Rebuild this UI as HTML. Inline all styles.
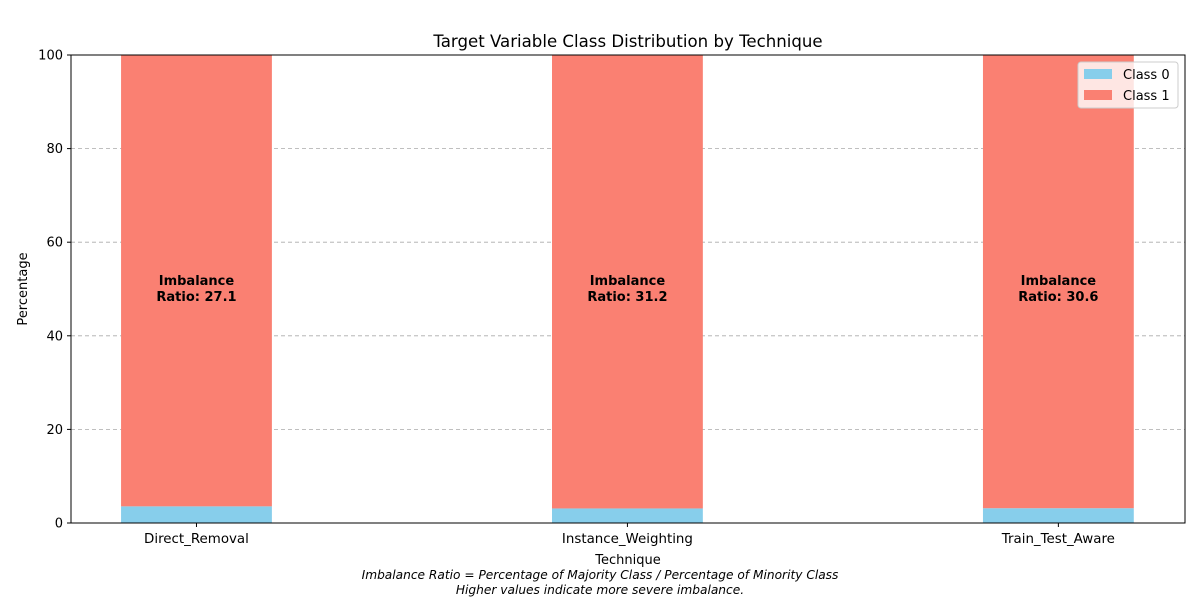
<!DOCTYPE html>
<html><head><meta charset="utf-8"><style>
body{margin:0;background:#fff;}
svg text{font-family:"DejaVu Sans","Liberation Sans",sans-serif;}
</style></head><body>
<svg id="chart" width="1200" height="600" xmlns="http://www.w3.org/2000/svg">
<rect width="1200" height="600" fill="#fff"/>
<text x="628" y="47" font-size="16.6" text-anchor="middle">Target Variable Class Distribution by Technique</text>
<g id="grid"></g>
<g id="bars"></g>
<g id="axes"></g>
<text x="628" y="564" font-size="13" text-anchor="middle">Technique</text>
<text transform="translate(27,289) rotate(-90)" font-size="13" text-anchor="middle">Percentage</text>
<text x="600" y="579" font-size="12.2" font-style="italic" text-anchor="middle">Imbalance Ratio = Percentage of Majority Class / Percentage of Minority Class</text>
<text x="600" y="594" font-size="12.2" font-style="italic" text-anchor="middle">Higher values indicate more severe imbalance.</text>
<g>
<rect x="1078" y="62" width="100" height="46" rx="3" fill="#fff" fill-opacity="0.8" stroke="#ccc"/>
<rect x="1084" y="69" width="28" height="10" fill="#87ceeb"/>
<text x="1123" y="79" font-size="13">Class 0</text>
<rect x="1084" y="90" width="28" height="10" fill="#fa8072"/>
<text x="1123" y="100" font-size="13">Class 1</text>
</g>
</svg>
<script>
const categories=["Direct_Removal","Instance_Weighting","Train_Test_Aware"];
const class0=[3.56,3.11,3.16];
const class1=[96.44,96.89,96.84];
const ratios=["27.1","31.2","30.6"];
const yTicks=[0,20,40,60,80,100];
const NS="http://www.w3.org/2000/svg";
const L=71,R=1185,T=55,B=523;
const xmin=-0.29,xmax=2.295;
const xs=v=>L+(v-xmin)/(xmax-xmin)*(R-L);
const ys=v=>B-(v/100)*(B-T);
const bw=0.35*(R-L)/(xmax-xmin);
function mk(tag,attrs,parent){const e=document.createElementNS(NS,tag);for(const k in attrs)e.setAttribute(k,attrs[k]);parent.appendChild(e);return e;}
const grid=document.getElementById('grid'),bars=document.getElementById('bars'),axes=document.getElementById('axes');
yTicks.forEach(t=>{
  if(t>0&&t<100){const g=mk('line',{x1:L,x2:R,y1:ys(t),y2:ys(t),stroke:'#aaa','stroke-dasharray':'4,3','stroke-width':0.8},grid);
  
  }
  const tk=mk('line',{x1:L-4,x2:L,y1:ys(t),y2:ys(t),stroke:'#000'},axes);
  
  
  const tx=mk('text',{x:L-8,y:ys(t)+4.5,'font-size':13,'text-anchor':'end'},axes);tx.textContent=t;
  
  
});
categories.forEach((c,i)=>{
  const cx=xs(i)+0.5;
  const r0=mk('rect',{x:cx-bw/2,y:ys(class0[i]),width:bw,height:ys(0)-ys(class0[i]),fill:'#87ceeb'},bars);
  
  
  const r1=mk('rect',{x:cx-bw/2,y:ys(class0[i]+class1[i]),width:bw,height:ys(class0[i])-ys(class0[i]+class1[i]),fill:'#fa8072'},bars);
  
  
  const a=mk('text',{x:cx,y:ys(50)-4,'font-size':13,'font-weight':'bold','text-anchor':'middle'},bars);a.textContent='Imbalance';
  
  
  const b=mk('text',{x:cx,y:ys(50)+12,'font-size':13,'font-weight':'bold','text-anchor':'middle'},bars);b.textContent='Ratio: '+ratios[i];
  
  
  const tk=mk('line',{x1:cx,x2:cx,y1:B,y2:B+4,stroke:'#000'},axes);
  
  
  const tx=mk('text',{x:cx,y:B+20,'font-size':13.4,'text-anchor':'middle'},axes);tx.textContent=c;
  
  
});
const fr=mk('rect',{x:L,y:T,width:R-L,height:B-T,fill:'none',stroke:'#000','stroke-width':1},axes);


</script>
</body></html>
